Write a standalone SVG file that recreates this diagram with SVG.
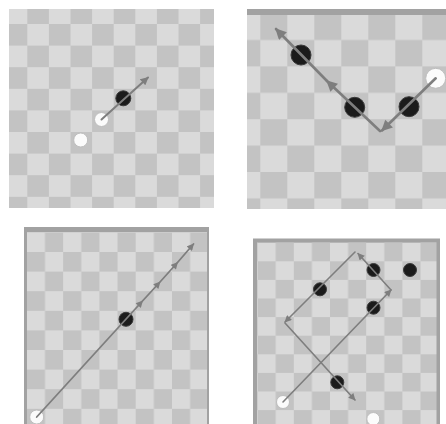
<svg xmlns="http://www.w3.org/2000/svg" width="446" height="424" viewBox="0 0 446 424">
<style>
.blk{fill:#1b1b1b;stroke:#3a3a3a;stroke-width:1}
.wht{fill:#fbfbfb;stroke:#bdbdbd;stroke-width:1}
.ln{fill:none;stroke:#7e7e7e;stroke-linecap:round}
.bd{fill:#a2a2a2}
</style>
<defs>
<pattern id="p1" patternUnits="userSpaceOnUse" x="5.7" y="2.4" width="43.2" height="43.2"><rect width="43.2" height="43.2" fill="#dadada"/><rect x="21.6" width="21.6" height="21.6" fill="#c3c3c3"/><rect y="21.6" width="21.6" height="21.6" fill="#c3c3c3"/></pattern>
<pattern id="p2" patternUnits="userSpaceOnUse" x="233.3" y="13.6" width="54" height="52.8"><rect width="54" height="52.8" fill="#dadada"/><rect x="27" width="27" height="26.4" fill="#c3c3c3"/><rect y="26.4" width="27" height="26.4" fill="#c3c3c3"/></pattern>
<pattern id="p3" patternUnits="userSpaceOnUse" x="26.86" y="232.4" width="36.28" height="39.2"><rect width="36.28" height="39.2" fill="#dadada"/><rect x="18.14" width="18.14" height="19.6" fill="#c3c3c3"/><rect y="19.6" width="18.14" height="19.6" fill="#c3c3c3"/></pattern>
<pattern id="p4" patternUnits="userSpaceOnUse" x="257.6" y="242.7" width="36.2" height="37.2"><rect width="36.2" height="37.2" fill="#dadada"/><rect x="18.1" width="18.1" height="18.6" fill="#c3c3c3"/><rect y="18.6" width="18.1" height="18.6" fill="#c3c3c3"/></pattern>
<marker id="a1" viewBox="0 0 10 10" refX="9" refY="5" markerUnits="userSpaceOnUse" markerWidth="9" markerHeight="8" orient="auto"><path d="M0,0 L10,5 L0,10 z" fill="#7e7e7e"/></marker>
<marker id="a2" viewBox="0 0 10 10" refX="9" refY="5" markerUnits="userSpaceOnUse" markerWidth="12" markerHeight="11" orient="auto"><path d="M0,0 L10,5 L0,10 z" fill="#7e7e7e"/></marker>
<marker id="a3" viewBox="0 0 10 10" refX="9" refY="5" markerUnits="userSpaceOnUse" markerWidth="8" markerHeight="7" orient="auto"><path d="M0,0 L10,5 L0,10 z" fill="#7e7e7e"/></marker>
</defs>
<rect width="446" height="424" fill="#ffffff"/>
<g id="boards">
<rect x="9" y="9" width="205" height="199" fill="url(#p1)"/>
<rect x="247" y="9" width="199" height="200" fill="url(#p2)"/>
<rect class="bd" x="247" y="9" width="199" height="6"/>
<rect class="bd" x="24" y="227" width="185" height="197"/>
<rect x="27" y="232" width="180" height="192" fill="url(#p3)"/>
<rect class="bd" x="253" y="238.5" width="187" height="186"/>
<rect x="257" y="242.5" width="179.5" height="182" fill="url(#p4)"/>
</g>
<g id="p1-white-a"><circle class="wht" cx="80.7" cy="140" r="7"/></g>
<g id="p1-white-b"><circle class="wht" cx="101.5" cy="119.5" r="7"/></g>
<g id="p1-black"><circle class="blk" cx="123.3" cy="98.3" r="7.5"/></g>
<g id="p2-black-a"><circle class="blk" cx="301" cy="55" r="10"/></g>
<g id="p2-black-b"><circle class="blk" cx="354.7" cy="107.3" r="10"/></g>
<g id="p2-black-c"><circle class="blk" cx="409" cy="106.7" r="10"/></g>
<g id="p2-white"><circle class="wht" cx="435.7" cy="78.3" r="10"/></g>
<g id="p3-white"><circle class="wht" cx="36.7" cy="417" r="7"/></g>
<g id="p3-black"><circle class="blk" cx="126" cy="319.3" r="7"/></g>
<g id="p4-black-a"><circle class="blk" cx="373.5" cy="270" r="6.5"/></g>
<g id="p4-black-b"><circle class="blk" cx="410" cy="270" r="6.5"/></g>
<g id="p4-black-c"><circle class="blk" cx="320" cy="289.3" r="6.5"/></g>
<g id="p4-black-d"><circle class="blk" cx="373.5" cy="307.7" r="6.5"/></g>
<g id="p4-black-e"><circle class="blk" cx="337.3" cy="382.3" r="6.5"/></g>
<g id="p4-white-a"><circle class="wht" cx="283" cy="402" r="6.5"/></g>
<g id="p4-white-b"><circle class="wht" cx="373.3" cy="419" r="6.5"/></g>
<g id="connectors">
<line class="ln" stroke-width="2" x1="101.5" y1="119.5" x2="148" y2="77.5" marker-end="url(#a1)"/>
<line class="ln" stroke-width="2.6" x1="435.7" y1="78.3" x2="382" y2="130.5" marker-end="url(#a2)"/>
<line class="ln" stroke-width="2.6" x1="380" y1="131" x2="327" y2="81" marker-end="url(#a2)"/>
<line class="ln" stroke-width="2.6" x1="327" y1="81" x2="276" y2="29" marker-end="url(#a2)"/>
<polyline class="ln" stroke-width="1.8" points="36.7,417 142.5,301 160,282 177.5,262.5 193.5,244" marker-mid="url(#a3)" marker-end="url(#a3)"/>
<line class="ln" stroke-width="1.6" x1="283" y1="402" x2="391" y2="290" marker-end="url(#a3)"/>
<line class="ln" stroke-width="1.6" x1="391" y1="290" x2="358" y2="253.5" marker-end="url(#a3)"/>
<line class="ln" stroke-width="1.6" x1="355" y1="252" x2="285" y2="322" marker-end="url(#a3)"/>
<line class="ln" stroke-width="1.6" x1="285" y1="323" x2="355" y2="400" marker-end="url(#a3)"/>
</g>
</svg>
